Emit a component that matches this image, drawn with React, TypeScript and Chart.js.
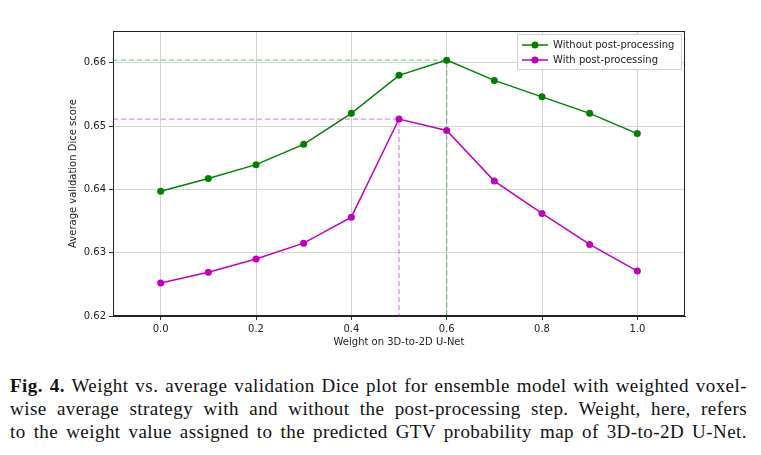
import React, { useEffect, useRef } from "react";
import { Chart, registerables } from "chart.js";

Chart.register(...registerables);

const weights = [0.0, 0.1, 0.2, 0.3, 0.4, 0.5, 0.6, 0.7, 0.8, 0.9, 1.0];
const withoutPost = [0.6397, 0.6417, 0.6439, 0.6471, 0.6520, 0.6580, 0.6604, 0.6572, 0.6546, 0.6520, 0.6488];
const withPost = [0.6252, 0.6269, 0.6290, 0.6315, 0.6356, 0.6511, 0.6493, 0.6413, 0.6362, 0.6313, 0.6271];
const xTicks = [0.0, 0.2, 0.4, 0.6, 0.8, 1.0];
const yTicks = [0.62, 0.63, 0.64, 0.65, 0.66];
const seriesNames = ["Without post-processing", "With post-processing"];
const xRange = [-0.1, 1.1];
const yRange = [0.62, 0.665];
const bestWithout = { x: 0.6, y: 0.6604 };
const bestWith = { x: 0.5, y: 0.6511 };

const GREEN = "#008000";
const MAGENTA = "#bf00bf";
const FONT = "'DejaVu Sans', sans-serif";

const boxLegendPlugin = {
  id: "boxLegend",
  afterDraw(chart: any) {
    const { ctx, chartArea } = chart;
    const { left, right, top, bottom } = chartArea;
    ctx.save();
    ctx.strokeStyle = "#222";
    ctx.lineWidth = 1;
    ctx.strokeRect(left + 0.5, top + 0.5, right - left - 1, bottom - top - 1);
    const lx = right - 168;
    const ly = top + 3;
    const lw = 164;
    const lh = 35;
    ctx.fillStyle = "rgba(255,255,255,0.85)";
    ctx.strokeStyle = "#d0d0d0";
    ctx.beginPath();
    ctx.rect(lx + 0.5, ly + 0.5, lw, lh);
    ctx.fill();
    ctx.stroke();
    const cols = [GREEN, MAGENTA];
    ctx.font = `10px ${FONT}`;
    ctx.textBaseline = "middle";
    seriesNames.forEach((name, i) => {
      const y = ly + 11 + i * 15;
      ctx.strokeStyle = cols[i];
      ctx.lineWidth = 1.5;
      ctx.beginPath();
      ctx.moveTo(lx + 5, y);
      ctx.lineTo(lx + 31, y);
      ctx.stroke();
      ctx.fillStyle = cols[i];
      ctx.beginPath();
      ctx.arc(lx + 18, y, 3.5, 0, Math.PI * 2);
      ctx.fill();
      ctx.fillStyle = "#222";
      ctx.fillText(name, lx + 36, y);
    });
    ctx.restore();
  },
};

export default function App() {
  const ref = useRef<HTMLCanvasElement>(null);
  useEffect(() => {
    document.body.style.margin = "0";
    const toPts = (vals: number[]) => weights.map((w, i) => ({ x: w, y: vals[i] }));
    const chart = new Chart(ref.current as HTMLCanvasElement, {
      type: "line",
      data: {
        datasets: [
          {
            label: "refWithout",
            data: [
              { x: xRange[0], y: bestWithout.y },
              { x: bestWithout.x, y: bestWithout.y },
              { x: bestWithout.x, y: yRange[0] },
            ],
            borderColor: "rgba(0,128,0,0.45)",
            borderWidth: 1.3,
            borderDash: [5, 3],
            pointRadius: 0,
            fill: false,
          },
          {
            label: "refWith",
            data: [
              { x: xRange[0], y: bestWith.y },
              { x: bestWith.x, y: bestWith.y },
              { x: bestWith.x, y: yRange[0] },
            ],
            borderColor: "rgba(191,0,191,0.45)",
            borderWidth: 1.3,
            borderDash: [5, 3],
            pointRadius: 0,
            fill: false,
          },
          {
            label: seriesNames[0],
            data: toPts(withoutPost),
            borderColor: GREEN,
            backgroundColor: GREEN,
            borderWidth: 1.5,
            pointRadius: 3.5,
            pointBorderWidth: 0,
            tension: 0,
          },
          {
            label: seriesNames[1],
            data: toPts(withPost),
            borderColor: MAGENTA,
            backgroundColor: MAGENTA,
            borderWidth: 1.5,
            pointRadius: 3.5,
            pointBorderWidth: 0,
            tension: 0,
          },
        ],
      },
      options: {
        animation: false,
        responsive: false,
        events: [],
        layout: { padding: { top: 31, right: 76, left: 0, bottom: 0 } },
        plugins: { legend: { display: false }, tooltip: { enabled: false } },
        scales: {
          x: {
            type: "linear",
            min: xRange[0],
            max: xRange[1],
            afterBuildTicks: (s: any) => {
              s.ticks = xTicks.map((v) => ({ value: v }));
            },
            afterFit: (s: any) => {
              s.height = 39;
            },
            ticks: {
              callback: (v: any) => Number(v).toFixed(1),
              color: "#222",
              font: { family: FONT, size: 10 },
              padding: 3,
              maxRotation: 0,
            },
            grid: { color: "#d3d3d3", tickColor: "#333", tickLength: 4 },
            border: { color: "#222" },
            title: {
              display: true,
              text: "Weight on 3D-to-2D U-Net",
              color: "#222",
              font: { family: FONT, size: 10 },
              padding: { top: 0, bottom: 7 },
            },
          },
          y: {
            type: "linear",
            min: yRange[0],
            max: yRange[1],
            afterBuildTicks: (s: any) => {
              s.ticks = yTicks.map((v) => ({ value: v }));
            },
            afterFit: (s: any) => {
              s.width = 113;
            },
            ticks: {
              callback: (v: any) => Number(v).toFixed(2),
              color: "#222",
              font: { family: FONT, size: 10 },
              padding: 3,
            },
            grid: { color: "#d3d3d3", tickColor: "#333", tickLength: 4 },
            border: { color: "#222" },
            title: {
              display: true,
              text: "Average validation Dice score",
              color: "#222",
              font: { family: FONT, size: 10 },
              padding: { top: 67, bottom: 0 },
            },
          },
        },
      },
      plugins: [boxLegendPlugin],
    });
    return () => chart.destroy();
  }, []);

  const lineStyle: React.CSSProperties = {
    textAlign: "justify",
    textAlignLast: "justify",
    whiteSpace: "nowrap",
    height: 23,
    lineHeight: "23px",
  };
  return (
    <div style={{ position: "absolute", left: 0, top: 0, width: 761, height: 455, background: "#fff" }}>
      <canvas ref={ref} width={761} height={355} style={{ display: "block" }} />
      <div
        style={{
          position: "absolute",
          left: 10,
          top: 374,
          width: 737,
          fontFamily: "'Liberation Serif', serif",
          fontSize: 19,
          letterSpacing: "0.45px",
          color: "#111",
        }}
      >
        <div style={lineStyle}>
          <b>Fig. 4.</b> Weight vs. average validation Dice plot for ensemble model with weighted voxel-
        </div>
        <div style={lineStyle}>
          wise average strategy with and without the post-processing step. Weight, here, refers
        </div>
        <div style={lineStyle}>
          to the weight value assigned to the predicted GTV probability map of 3D-to-2D U-Net.
        </div>
      </div>
    </div>
  );
}
